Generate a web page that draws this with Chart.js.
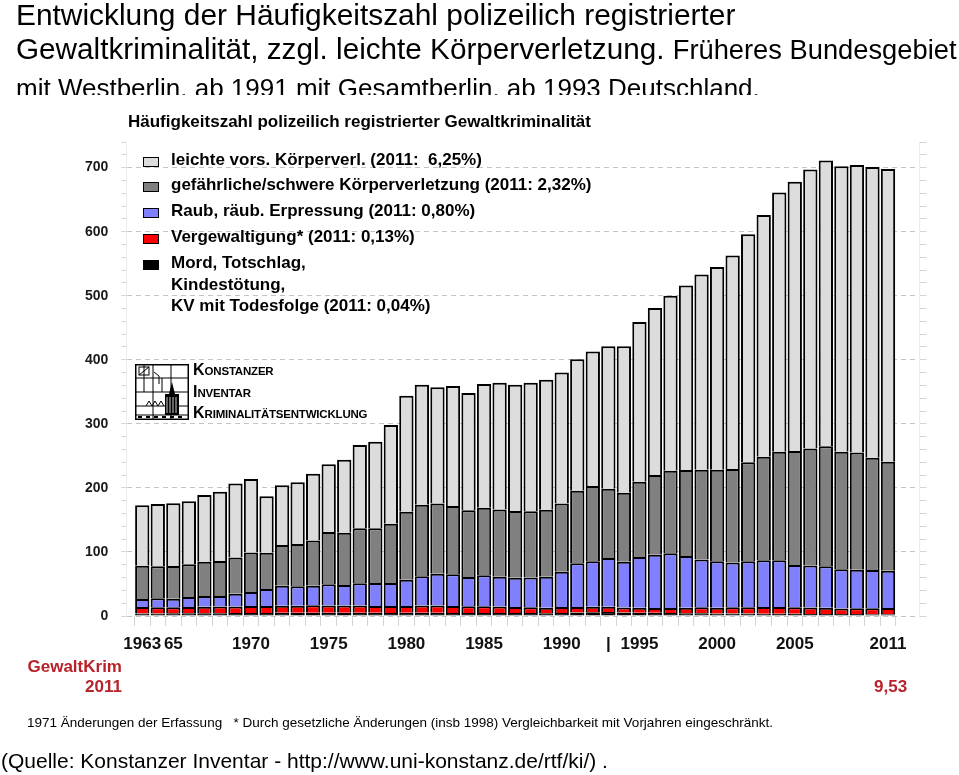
<!DOCTYPE html>
<html lang="de">
<head>
<meta charset="utf-8">
<title>Häufigkeitszahl Gewaltkriminalität</title>
<script src="https://cdn.jsdelivr.net/npm/chart.js@4"></script>
<style>
  html, body { margin: 0; padding: 0; background: #fff; }
  body { width: 959px; height: 775px; position: relative; overflow: hidden;
         font-family: 'Liberation Sans', Arial, sans-serif; color: #000; }
  #chart { position: absolute; left: 0; top: 0; }
  .t { position: absolute; white-space: nowrap; line-height: 1; }
  #head { position: absolute; left: 16px; top: 0; width: 943px; height: 95px; overflow: hidden; }
  .leg-row { position: absolute; left: 171px; font-size: 17px; font-weight: bold; line-height: 21.5px; white-space: pre; }
  .leg-box { position: absolute; left: 143px; width: 16px; height: 10px; box-sizing: border-box; border: 1.5px solid #000; }
  .red { color: #b8232b; font-weight: bold; font-size: 17px; }
  #logo-text div { position: absolute; left: 193px; font-weight: bold; font-size: 16px; line-height: 16px; white-space: nowrap; }
  #logo-text span { font-size: 11.5px; letter-spacing: -0.2px; }
</style>
</head>
<body>
<canvas id="chart" width="959" height="775"></canvas>

<div id="head">
  <div class="t" style="top:0; font-size:29.9px">Entwicklung der Häufigkeitszahl polizeilich registrierter</div>
  <div class="t" style="top:34px; font-size:29.7px">Gewaltkriminalität, zzgl. leichte Körperverletzung. <span style="font-size:27.3px">Früheres Bundesgebiet</span></div>
  <div class="t" style="top:75px; font-size:26px">mit Westberlin. ab 1991 mit Gesamtberlin. ab 1993 Deutschland.</div>
</div>
<div class="t" style="left:128px; top:112.6px; font-size:17px; font-weight:bold">Häufigkeitszahl polizeilich registrierter Gewaltkriminalität</div>

<div id="legend"></div>

<svg id="logo" style="position:absolute; left:135px; top:364px" width="54" height="56" viewBox="0 0 54 56">
  <rect x="0.75" y="0.75" width="52.5" height="54.5" fill="#fff" stroke="#000" stroke-width="1.5"/>
  <g stroke="#000" stroke-width="1" fill="none">
    <line x1="18" y1="0" x2="18" y2="56"/>
    <line x1="36" y1="0" x2="36" y2="56"/>
    <line x1="0" y1="14" x2="54" y2="14"/>
    <line x1="0" y1="28" x2="54" y2="28"/>
    <line x1="0" y1="42" x2="54" y2="42"/>
    <line x1="0" y1="51" x2="54" y2="51"/>
    <line x1="9" y1="0" x2="9" y2="28"/>
    <line x1="27" y1="14" x2="27" y2="28"/>
    <rect x="4" y="3" width="10" height="8"/>
    <polyline points="4,11 14,3"/>
    <polyline points="19,8 24,12 24,20"/>
    <polyline points="11,42 14,37 17,42 20,37 23,42 26,37 29,42"/>
  </g>
  <polygon points="30,51 30,30 34,30 37,18 40,30 44,30 44,51" fill="#000"/>
  <g stroke="#fff" stroke-width="0.8">
    <line x1="32" y1="33" x2="32" y2="49"/>
    <line x1="35" y1="33" x2="35" y2="49"/>
    <line x1="38" y1="33" x2="38" y2="49"/>
    <line x1="41" y1="33" x2="41" y2="49"/>
  </g>
  <g fill="#000">
    <rect x="3" y="52" width="4" height="2"/><rect x="11" y="52" width="4" height="2"/>
    <rect x="19" y="52" width="4" height="2"/><rect x="27" y="52" width="4" height="2"/>
    <rect x="35" y="52" width="4" height="2"/><rect x="43" y="52" width="4" height="2"/>
  </g>
</svg>
<div id="logo-text">
  <div style="top:361.5px">K<span>ONSTANZER</span></div>
  <div style="top:383.5px">I<span>NVENTAR</span></div>
  <div style="top:404.5px">K<span>RIMINALITÄTSENTWICKLUNG</span></div>
</div>

<div class="t red" style="right:837px; top:657.6px">GewaltKrim</div>
<div class="t red" style="right:837px; top:677.6px">2011</div>
<div class="t red" style="left:874px; top:677.6px">9,53</div>

<div class="t" style="left:27px; top:715.6px; font-size:13.5px">1971 Änderungen der Erfassung&nbsp;&nbsp;&nbsp;* Durch gesetzliche Änderungen (insb 1998) Vergleichbarkeit mit Vorjahren eingeschränkt.</div>
<div class="t" style="left:1px; top:750.2px; font-size:21px">(Quelle: Konstanzer Inventar - http://www.uni-konstanz.de/rtf/ki/) .</div>

<script>
// Häufigkeitszahl (Fälle je 100.000 Einwohner), 1963-2011
const years = [1963, 1964, 1965, 1966, 1967, 1968, 1969, 1970,
  1971, 1972, 1973, 1974, 1975, 1976, 1977, 1978, 1979, 1980,
  1981, 1982, 1983, 1984, 1985, 1986, 1987, 1988, 1989, 1990,
  1991, 1992, 1993, 1994, 1995, 1996, 1997, 1998, 1999, 2000,
  2001, 2002, 2003, 2004, 2005, 2006, 2007, 2008, 2009, 2010, 2011];

const mord = [4.0, 4.0, 4.1, 4.2, 4.3, 4.4, 4.5, 4.6,
  4.8, 5.0, 5.1, 5.2, 5.0, 5.1, 5.0, 4.9, 4.8, 4.9,
  4.9, 5.0, 4.8, 4.6, 4.6, 4.5, 4.5, 4.5, 4.3, 4.6,
  5.5, 5.7, 6.1, 5.5, 5.2, 4.9, 4.6, 4.2, 4.1, 3.9,
  3.8, 3.8, 3.6, 3.4, 3.4, 3.3, 3.2, 3.0, 3.0, 2.9, 2.9];

const vergewaltigung = [10.0, 9.8, 9.6, 9.8, 10.2, 10.4, 10.5, 10.9,
  10.8, 10.9, 11.0, 11.5, 11.3, 11.4, 11.3, 10.9, 10.9, 10.8,
  11.3, 11.5, 11.0, 10.7, 10.7, 10.2, 9.5, 9.2, 8.6, 9.6,
  8.4, 8.6, 8.4, 7.6, 7.5, 7.6, 7.7, 8.6, 9.4, 9.1,
  9.8, 10.0, 10.6, 10.7, 10.3, 10.0, 9.6, 8.7, 9.0, 9.3, 9.5];

const raub = [12.5, 13.8, 13.3, 15.6, 16.7, 16.4, 19.8, 21.9,
  26.5, 31.4, 30.2, 30.6, 33.1, 31.9, 34.7, 35.7, 35.8, 41.0,
  45.7, 49.5, 49.2, 45.5, 48.2, 46.6, 45.8, 46.3, 48.5, 55.0,
  68.3, 71.0, 76.0, 71.7, 79.3, 83.2, 85.5, 80.8, 74.9, 72.3,
  70.1, 71.5, 72.7, 72.8, 65.9, 65.7, 64.7, 61.1, 60.3, 59.6, 58.3];

const schwereKV = [52.0, 49.9, 51.0, 51.0, 53.6, 54.6, 56.7, 61.9,
  56.7, 63.5, 66.0, 70.7, 81.6, 81.6, 86.0, 85.5, 92.5, 106.1,
  111.8, 109.8, 106.6, 104.2, 105.5, 105.1, 104.0, 103.5, 104.5, 106.6,
  113.3, 117.5, 108.1, 107.6, 117.5, 124.3, 128.9, 134.2, 139.9, 143.0,
  145.6, 154.9, 161.6, 169.4, 177.8, 182.6, 187.7, 183.5, 183.1, 175.2, 170.0];

const leichteKV = [94.5, 97.5, 98.0, 98.4, 104.2, 108.2, 115.5, 114.7,
  88.2, 93.2, 96.7, 104.0, 106.0, 114.0, 130.0, 135.0, 154.0, 181.2,
  187.3, 181.2, 187.4, 183.0, 193.0, 197.6, 197.2, 200.5, 203.1, 204.2,
  205.5, 210.2, 222.4, 228.6, 249.5, 261.0, 273.3, 288.2, 304.7, 316.7,
  333.7, 355.8, 377.5, 404.7, 420.6, 435.4, 445.8, 445.7, 448.6, 454.0, 457.3];

const seriesLabels = [
  'Mord, Totschlag,\nKindestötung,\nKV mit Todesfolge (2011: 0,04%)',
  'Vergewaltigung* (2011: 0,13%)',
  'Raub, räub. Erpressung (2011: 0,80%)',
  'gefährliche/schwere Körperverletzung (2011: 2,32%)',
  'leichte vors. Körperverl. (2011:  6,25%)'
];
const seriesColors = ['#000000', '#ff0000', '#8080ff', '#808080', '#dcdcdc'];

// Beschriftung der Zeitachse
const tickYears = [1963, 1965, 1970, 1975, 1980, 1985, 1990, 1993, 1995, 2000, 2005, 2011];
const tickTexts = ['1963', '65', '1970', '1975', '1980', '1985', '1990', '|', '1995', '2000', '2005', '2011'];

Chart.defaults.font.family = "'Liberation Sans', Arial, sans-serif";

const series = [mord, vergewaltigung, raub, schwereKV, leichteKV];
const datasets = series.map((d, i) => ({
  label: seriesLabels[i],
  data: d,
  backgroundColor: seriesColors[i],
  borderColor: '#000',
  borderWidth: 2,
  barPercentage: 0.92,
  categoryPercentage: 1
}));

const tickGrey = '#d4d4d4';

const chart = new Chart(document.getElementById('chart'), {
  type: 'bar',
  data: { labels: years, datasets: datasets },
  options: {
    responsive: false,
    animation: false,
    layout: { padding: { left: 0, top: 142, right: 29.6, bottom: 109 } },
    plugins: {
      legend: { display: false },
      tooltip: { enabled: false }
    },
    scales: {
      x: {
        type: 'linear',
        stacked: true,
        min: 1962.5,
        max: 2012.5,
        afterBuildTicks: (s) => { s.ticks = years.map(v => ({ value: v })); },
        afterFit: (s) => { s.height = 50; },
        ticks: {
          autoSkip: false, maxRotation: 0, minRotation: 0, padding: 8,
          color: '#111', font: { size: 17, weight: 'bold' },
          callback: (v) => {
            const k = tickYears.indexOf(v);
            return k >= 0 ? tickTexts[k] : '';
          }
        },
        grid: { drawOnChartArea: false, tickLength: 10, tickColor: tickGrey },
        border: { display: false }
      },
      y: {
        stacked: true,
        min: 0,
        max: 740,
        afterFit: (s) => { s.width = 126.4; },
        ticks: {
          stepSize: 20, autoSkip: false, padding: 13,
          color: '#1a1a1a', font: { size: 14, weight: 'bold' },
          callback: (v) => (v % 100 === 0 && v <= 700) ? String(v) : ''
        },
        grid: {
          color: (c) => (c.tick && c.tick.value % 100 === 0) ? '#c4c4c4' : 'rgba(0,0,0,0)',
          tickColor: tickGrey,
          tickLength: 5
        },
        border: { color: '#ececec', dash: [5, 4] }
      },
      y2: {
        position: 'right',
        min: 0,
        max: 740,
        afterFit: (s) => { s.width = 10; },
        ticks: { display: false, stepSize: 20 },
        grid: { drawOnChartArea: false, tickLength: 7, tickColor: tickGrey },
        border: { color: '#ececec' }
      }
    }
  }
});

// Legende oben links im Diagramm, Reihenfolge wie die Stapel von oben
const legendBaselines = [166, 191, 217, 243, 269];
const legendEl = document.getElementById('legend');
datasets.slice().reverse().forEach((ds, i) => {
  const base = legendBaselines[i];
  const box = document.createElement('div');
  box.className = 'leg-box';
  box.style.top = (base - 9.5) + 'px';
  box.style.background = ds.backgroundColor;
  legendEl.appendChild(box);
  const row = document.createElement('div');
  row.className = 'leg-row';
  row.style.top = (base - 16.6) + 'px';
  row.innerHTML = ds.label.split('\n').join('<br>');
  legendEl.appendChild(row);
});
</script>
</body>
</html>
